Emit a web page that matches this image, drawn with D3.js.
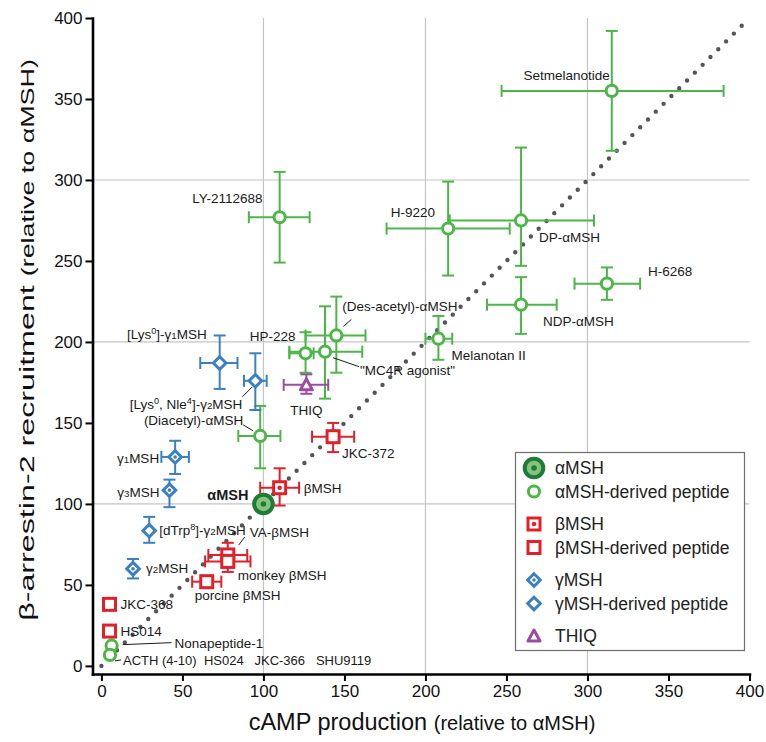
<!DOCTYPE html>
<html>
<head>
<meta charset="utf-8">
<script src="https://cdn.jsdelivr.net/npm/d3@7"></script>
<style>
body{margin:0;background:#fff;}
svg{font-family:"Liberation Sans",Arial,sans-serif;}
</style>
</head>
<body>
<script>
// compound names (^x = superscript, _x = small digit)
var names = ["Setmelanotide", "LY-2112688", "H-9220", "DP-αMSH", "NDP-αMSH", "H-6268",
  "Melanotan II", "(Des-acetyl)-αMSH", "\"MC4R agonist\"", "HP-228", "(Diacetyl)-αMSH",
  "Nonapeptide-1", "ACTH (4-10)", "αMSH",
  "βMSH", "JKC-372", "VA-βMSH", "monkey βMSH", "porcine βMSH", "JKC-368", "HS014",
  "[Lys^0]-γ_1MSH", "[Lys^0, Nle^4]-γ_2MSH", "γ_1MSH", "γ_3MSH", "[dTrp^8]-γ_2MSH", "γ_2MSH",
  "THIQ"];
// a = αMSH, ad = αMSH-derived, b/bd = βMSH, g/gd = γMSH, t = THIQ
var groups = ["ad","ad","ad","ad","ad","ad","ad","ad","ad","ad","ad","ad","ad","a",
  "b","bd","bd","bd","bd","bd","bd",
  "gd","gd","g","g","gd","g",
  "t"];
// cAMP production (relative to αMSH)
var camp   = [315, 110, 214, 259, 259, 312, 208, 145, 138, 126, 98, 6.3, 5.3, 100,
  110, 143, 78, 78, 65, 5, 5, 73, 95, 45.5, 42, 29.5, 19.5, 126.5];
var campLo = [247, 91, 176, 215, 238, 292, 200, 126, 116, 116, 84.5, null, null, null,
  98, 130, 66, 64, 56, null, null, 61, 88, 37, null, null, null, 112.5];
var campHi = [384, 128.5, 252, 304, 281, 332.5, 216.5, 163, 161, 131, 110.5, null, null, null,
  122, 156, 90, 92, 74, null, null, 84, 102, 54, null, null, null, 140];
// β-arrestin-2 recruitment (relative to αMSH)
var arrestin = [355, 277, 270, 275, 223, 236, 202, 204, 194, 193, 142, 12.5, 6.8, 100,
  110, 141.5, 68.5, 64.5, 52, 38, 21.5, 187, 176, 129, 108.5, 83.5, 60, 173.5];
var arrLo = [318, 249, 241, 247, 205, 226, 189, 181, 165, 181, 122, null, null, null,
  99, 132, 61, 58, null, null, null, 171, 158, 118.5, 98, 76, 54, 168];
var arrHi = [392, 305, 299, 320, 240, 246, 216, 228, 222, 206, 160.5, null, null, null,
  122, 150, 76, 72, null, null, null, 204, 193, 139, 115, 92, 66, 180];
// compounds without activity, listed along the bottom
var inactive = ["HS024", "JKC-366", "SHU9119"];

var xTicks = [0, 50, 100, 150, 200, 250, 300, 350, 400];
var yTicks = [0, 50, 100, 150, 200, 250, 300, 350, 400];
var gridValues = [100, 200, 300];

var legendLabels = ["αMSH", "αMSH-derived peptide", "βMSH", "βMSH-derived peptide",
  "γMSH", "γMSH-derived peptide", "THIQ"];
var legendGroups = ["a", "ad", "b", "bd", "g", "gd", "t"];

var colors = {a: "#1c7c38", ad: "#4cb648", b: "#e3202a", bd: "#e3202a",
  g: "#3b80c2", gd: "#3b80c2", t: "#9a4c9e"};

// label placement relative to the marker: [dx, dy, anchor, leader]
var labelPos = {
  "Setmelanotide": [-2, -16, "end"],
  "LY-2112688": [-17, -19, "end"],
  "H-9220": [-13, -16, "end"],
  "DP-αMSH": [18, 17, "start"],
  "NDP-αMSH": [22, 16, "start"],
  "H-6268": [41, -12, "start"],
  "Melanotan II": [13, 16, "start"],
  "(Des-acetyl)-αMSH": [6, -29, "start", [7, -9, 15, -16]],
  "\"MC4R agonist\"": [35, 18, "start", [8, 6, 34, 15]],
  "HP-228": [-10, -17, "end"],
  "(Diacetyl)-αMSH": [-17, -16, "end", [-17, -11, -7, -5]],
  "Nonapeptide-1": [63, -3, "start", [11, -1, 60, -3]],
  "ACTH (4-10)": [13, 5, "start", [5, 6, 11, 5]],
  "αMSH": [-15, -9, "end"],
  "βMSH": [24, 0, "start"],
  "JKC-372": [9, 16, "start"],
  "VA-βMSH": [22, -23, "start", [11, -10, 17, -18]],
  "monkey βMSH": [10, 14, "start"],
  "porcine βMSH": [-12, 13, "start"],
  "JKC-368": [11, 0, "start"],
  "HS014": [11, 0, "start"],
  "[Lys^0]-γ_1MSH": [-13, -29, "end"],
  "[Lys^0, Nle^4]-γ_2MSH": [-13, 23, "end", [-13, 16, -3, 6]],
  "γ_1MSH": [-16, 1, "end"],
  "γ_3MSH": [-10, 2, "end"],
  "[dTrp^8]-γ_2MSH": [10, -1, "start"],
  "γ_2MSH": [13, -1, "start"],
  "THIQ": [0, 25, "middle"]
};

var width = 766, height = 742;
var svg = d3.select("body").append("svg")
  .attr("width", width)
  .attr("height", height);

var x = d3.scaleLinear().domain([-5.5, 400]).range([92.5, 749.5]);
var y = d3.scaleLinear().domain([-5, 400]).range([674, 18]);

// grid
var grid = svg.append("g").attr("stroke", "#c4c4c4").attr("stroke-width", 1.2);
gridValues.forEach(function(v){
  grid.append("line").attr("x1", x(v)).attr("x2", x(v)).attr("y1", y(400)).attr("y2", y(-5));
  grid.append("line").attr("y1", y(v)).attr("y2", y(v)).attr("x1", x(-5.5)).attr("x2", x(400));
});

// dotted identity line
var lx1 = x(0), ly1 = y(0), lx2 = x(400), ly2 = y(400);
var len = Math.hypot(lx2 - lx1, ly2 - ly1);
var gap = len / Math.round(len / 11.1);
svg.append("line")
  .attr("x1", lx1).attr("y1", ly1).attr("x2", lx2).attr("y2", ly2)
  .attr("stroke", "#555").attr("stroke-width", 4.4)
  .attr("stroke-linecap", "round")
  .attr("stroke-dasharray", "0," + gap);

// error bars
var cap = 6;
var bars = svg.append("g").attr("stroke-width", 2).attr("fill", "none");
names.forEach(function(n, i){
  var c = colors[groups[i]], cx = x(camp[i]), cy = y(arrestin[i]);
  if (campLo[i] != null) {
    bars.append("line").attr("stroke", c).attr("x1", x(campLo[i])).attr("x2", x(campHi[i])).attr("y1", cy).attr("y2", cy);
    [campLo[i], campHi[i]].forEach(function(v){
      bars.append("line").attr("stroke", c).attr("x1", x(v)).attr("x2", x(v)).attr("y1", cy - cap).attr("y2", cy + cap);
    });
  }
  if (arrLo[i] != null) {
    bars.append("line").attr("stroke", c).attr("y1", y(arrLo[i])).attr("y2", y(arrHi[i])).attr("x1", cx).attr("x2", cx);
    [arrLo[i], arrHi[i]].forEach(function(v){
      bars.append("line").attr("stroke", c).attr("y1", y(v)).attr("y2", y(v)).attr("x1", cx - cap).attr("x2", cx + cap);
    });
  }
});

// markers
function drawMarker(g, grp, cx, cy){
  var c = colors[grp];
  var m = g.append("g").attr("transform", "translate(" + cx + "," + cy + ")");
  if (grp === "a") {
    m.append("circle").attr("r", 9.3).attr("fill", "#86c47e").attr("stroke", c).attr("stroke-width", 4);
    m.append("circle").attr("r", 2.8).attr("fill", c);
  } else if (grp === "ad") {
    m.append("circle").attr("r", 5.6).attr("fill", "#fff").attr("stroke", c).attr("stroke-width", 3);
  } else if (grp === "b" || grp === "bd") {
    m.append("rect").attr("x", -6).attr("y", -6).attr("width", 12).attr("height", 12)
      .attr("fill", "#fff").attr("stroke", c).attr("stroke-width", 3);
    if (grp === "b") m.append("circle").attr("r", 2.3).attr("fill", c);
  } else if (grp === "g" || grp === "gd") {
    m.append("path").attr("d", "M0,-6.3L6.3,0L0,6.3L-6.3,0Z")
      .attr("fill", "#fff").attr("stroke", c).attr("stroke-width", 3);
    if (grp === "g") m.append("circle").attr("r", 1.8).attr("fill", c);
  } else if (grp === "t") {
    m.append("path").attr("d", "M0,-6L6,5L-6,5Z")
      .attr("fill", "#fff").attr("stroke", c).attr("stroke-width", 3).attr("stroke-linejoin", "round");
  }
}
var marks = svg.append("g");
names.forEach(function(n, i){
  drawMarker(marks, groups[i], x(camp[i]), y(arrestin[i]));
});

// rich text: ^x superscript, _x small digit
function richText(t, s, size){
  s.split(/([\^_].)/).forEach(function(p){
    if (!p) return;
    if (p[0] === "^") t.append("tspan").attr("font-size", size * 0.68).attr("baseline-shift", "super").text(p[1]);
    else if (p[0] === "_") t.append("tspan").attr("font-size", size * 0.72).text(p[1]);
    else t.append("tspan").text(p);
  });
}

// labels
var labels = svg.append("g").attr("font-size", 13.5).attr("fill", "#1a1a1a");
var leaders = svg.append("g").attr("stroke", "#1a1a1a").attr("stroke-width", 1);
names.forEach(function(n, i){
  var p = labelPos[n]; if (!p) return;
  var cx = x(camp[i]), cy = y(arrestin[i]);
  var t = labels.append("text")
    .attr("x", cx + p[0]).attr("y", cy + p[1]).attr("dy", "0.36em")
    .attr("text-anchor", p[2]);
  if (groups[i] === "a") t.attr("font-weight", "bold").attr("font-size", 14.5);
  if (n === "ACTH (4-10)") {
    t.attr("xml:space", "preserve").attr("font-size", 13);
    t.text(n + "  " + inactive.join("   "));
  } else {
    richText(t, n, 13.5);
  }
  if (p[3]) {
    leaders.append("line")
      .attr("x1", cx + p[3][0]).attr("y1", cy + p[3][1])
      .attr("x2", cx + p[3][2]).attr("y2", cy + p[3][3]);
  }
});

// legend
var lg = svg.append("g");
lg.append("rect").attr("x", 515.5).attr("y", 452.5).attr("width", 229).attr("height", 198)
  .attr("fill", "#fff").attr("stroke", "#6e6e6e").attr("stroke-width", 1.2);
var ly = 468;
legendLabels.forEach(function(l, i){
  if (i > 0) ly += (i % 2 === 0) ? 32.5 : 23.5;
  drawMarker(lg, legendGroups[i], 534, ly);
  lg.append("text").attr("x", 555).attr("y", ly).attr("dy", "0.36em")
    .attr("font-size", 17.5).attr("fill", "#222").text(l);
});

// axes
var xAxis = svg.append("g").attr("transform", "translate(0,674)")
  .call(d3.axisBottom(x).tickValues(xTicks).tickSize(7).tickPadding(4).tickSizeOuter(0));
var yAxis = svg.append("g").attr("transform", "translate(92.5,0)")
  .call(d3.axisLeft(y).tickValues(yTicks).tickSize(7).tickPadding(3).tickSizeOuter(0));
[xAxis, yAxis].forEach(function(a){
  a.select(".domain").attr("stroke", "#000").attr("stroke-width", 2.6).attr("stroke-linecap", "square");
  a.selectAll(".tick line").attr("stroke", "#000").attr("stroke-width", 2);
  a.selectAll(".tick text").attr("font-size", 17).attr("fill", "#111")
    .attr("font-family", "'Liberation Sans',Arial,sans-serif");
});

// axis titles
var xt = svg.append("text").attr("x", 422).attr("y", 730).attr("text-anchor", "middle").attr("fill", "#111");
xt.append("tspan").attr("font-size", 23.5).text("cAMP production ");
xt.append("tspan").attr("font-size", 20).text("(relative to αMSH)");

// y title is drawn stretched along its length, as in the original figure
var yt = svg.append("text").attr("text-anchor", "middle").attr("fill", "#111");
yt.append("tspan").attr("font-size", 21).text("β-arrestin-2 recruitment ");
yt.append("tspan").attr("font-size", 17.5).text("(relative to αMSH)");
var ytLen = yt.node().getComputedTextLength();
yt.attr("transform", "translate(34,340) rotate(-90) scale(" + (562 / ytLen) + ",1)");
</script>
</body>
</html>
